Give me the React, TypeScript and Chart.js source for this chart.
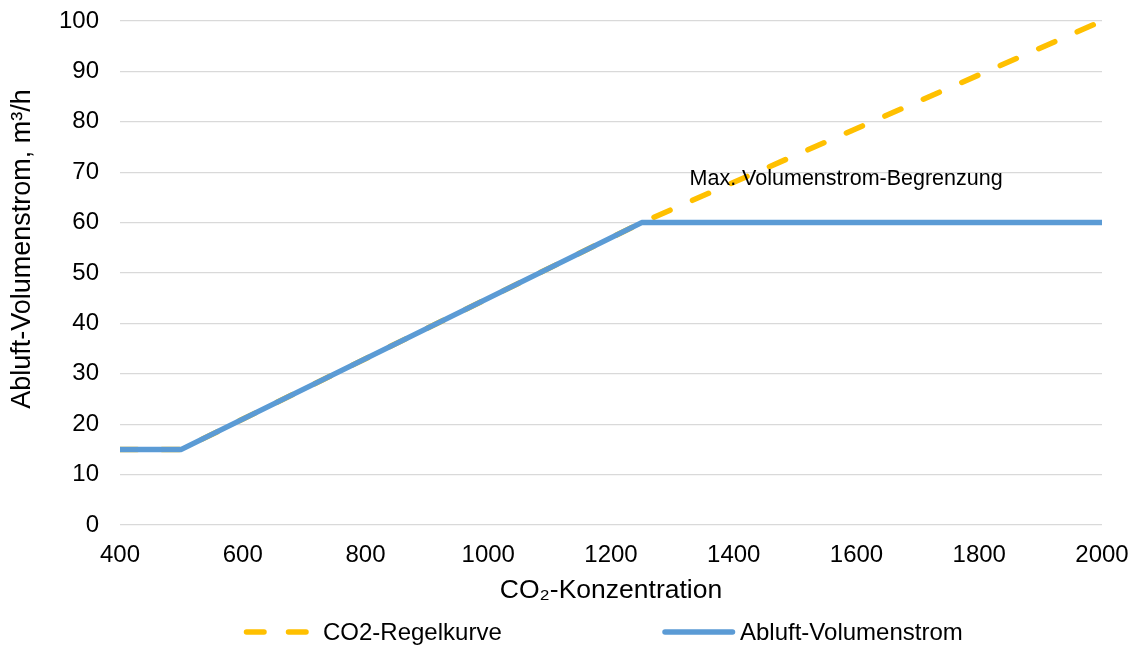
import React, { useEffect, useRef } from "react";
import { Chart, registerables } from "chart.js";

Chart.register(...registerables);

// ---- data ----
const co2Values = [400, 500, 1250, 2000];
const regelkurve = [15, 15, 60, 100];
const abluftVolumenstrom = [15, 15, 60, 60];
const seriesNames = ["CO2-Regelkurve", "Abluft-Volumenstrom"];
const xTitle = "CO₂-Konzentration";
const yTitle = "Abluft-Volumenstrom, m³/h";
const annotationText = "Max. Volumenstrom-Begrenzung";
const annotationPoint = [1328, 67.5];
const xRange = [400, 2000, 200];
const yRange = [0, 100, 10];

const FONT = "'Liberation Sans', Arial, Helvetica, sans-serif";
const YELLOW = "#FFC000";
const BLUE = "#5B9BD5";

const overlayPlugin = {
  id: "overlay",
  afterDraw(chart: any) {
    const ctx = chart.ctx as CanvasRenderingContext2D;
    const xs = chart.scales.x;
    const ys = chart.scales.y;
    ctx.save();

    // annotation text
    ctx.font = `21.5px ${FONT}`;
    ctx.fillStyle = "#000";
    ctx.textAlign = "left";
    ctx.textBaseline = "alphabetic";
    ctx.fillText(
      annotationText,
      xs.getPixelForValue(annotationPoint[0]),
      ys.getPixelForValue(annotationPoint[1])
    );

    // y axis title
    ctx.save();
    ctx.translate(23, 249);
    ctx.rotate(-Math.PI / 2);
    ctx.font = `27px ${FONT}`;
    ctx.textAlign = "center";
    ctx.textBaseline = "middle";
    ctx.fillText(yTitle, 0, 0);
    ctx.restore();

    // legend
    const layout = [
      { x0: 246.5, x1: 306.5, tx: 323 },
      { x0: 665, x1: 732.5, tx: 740 },
    ];
    const ly = 632;
    chart.data.datasets.forEach((ds: any, i: number) => {
      const it = layout[i];
      ctx.beginPath();
      ctx.lineWidth = ds.borderWidth;
      ctx.strokeStyle = ds.borderColor;
      ctx.lineCap = "round";
      ctx.setLineDash(ds.borderDash || []);
      ctx.moveTo(it.x0, ly);
      ctx.lineTo(it.x1, ly);
      ctx.stroke();
      ctx.setLineDash([]);
      ctx.font = `24px ${FONT}`;
      ctx.fillStyle = "#000";
      ctx.textAlign = "left";
      ctx.textBaseline = "alphabetic";
      ctx.fillText(ds.label, it.tx, 640);
    });
    ctx.restore();
  },
};

export default function App() {
  const ref = useRef<HTMLCanvasElement | null>(null);

  useEffect(() => {
    if (!ref.current) return;
    const chart = new Chart(ref.current, {
      type: "line",
      data: {
        datasets: [
          {
            label: seriesNames[0],
            data: co2Values.map((x, i) => ({ x, y: regelkurve[i] })),
            borderColor: YELLOW,
            backgroundColor: YELLOW,
            borderWidth: 5.5,
            borderDash: [17.5, 24.5],
            borderCapStyle: "round",
            borderJoinStyle: "round",
            pointRadius: 0,
            tension: 0,
            order: 2,
          },
          {
            label: seriesNames[1],
            data: co2Values.map((x, i) => ({ x, y: abluftVolumenstrom[i] })),
            borderColor: BLUE,
            backgroundColor: BLUE,
            borderWidth: 5.5,
            borderCapStyle: "butt",
            borderJoinStyle: "round",
            pointRadius: 0,
            tension: 0,
            order: 1,
          },
        ],
      },
      options: {
        responsive: false,
        animation: false,
        layout: { padding: { top: 21, right: 36, bottom: 38, left: 0 } },
        plugins: {
          legend: { display: false },
          tooltip: { enabled: false },
        },
        scales: {
          x: {
            type: "linear",
            min: xRange[0],
            max: xRange[1],
            afterFit: (s: any) => {
              s.height = 82;
              s.paddingLeft = 0;
              s.paddingRight = 0;
            },
            ticks: {
              stepSize: xRange[2],
              color: "#000",
              font: { family: FONT, size: 24 },
              padding: 16,
              maxRotation: 0,
              callback: (v: any) => String(v),
            },
            grid: { display: false, drawTicks: false },
            border: { display: false },
            title: {
              display: true,
              text: xTitle,
              color: "#000",
              font: { family: FONT, size: 26.5 },
              padding: { top: 7, bottom: 0 },
            },
          },
          y: {
            type: "linear",
            min: yRange[0],
            max: yRange[1],
            afterFit: (s: any) => {
              s.width = 120;
              s.paddingTop = 0;
              s.paddingBottom = 0;
            },
            ticks: {
              stepSize: yRange[2],
              color: "#000",
              font: { family: FONT, size: 24 },
              padding: 21,
              callback: (v: any) => String(v),
            },
            grid: { color: "#D9D9D9", lineWidth: 1.3, drawTicks: false },
            border: { display: false },
          },
        },
      },
      plugins: [overlayPlugin],
    } as any);
    return () => chart.destroy();
  }, []);

  return (
    <div style={{ position: "absolute", left: 0, top: 0, width: 1138, height: 645, background: "#fff" }}>
      <canvas ref={ref} width={1138} height={645} style={{ display: "block" }} />
    </div>
  );
}
